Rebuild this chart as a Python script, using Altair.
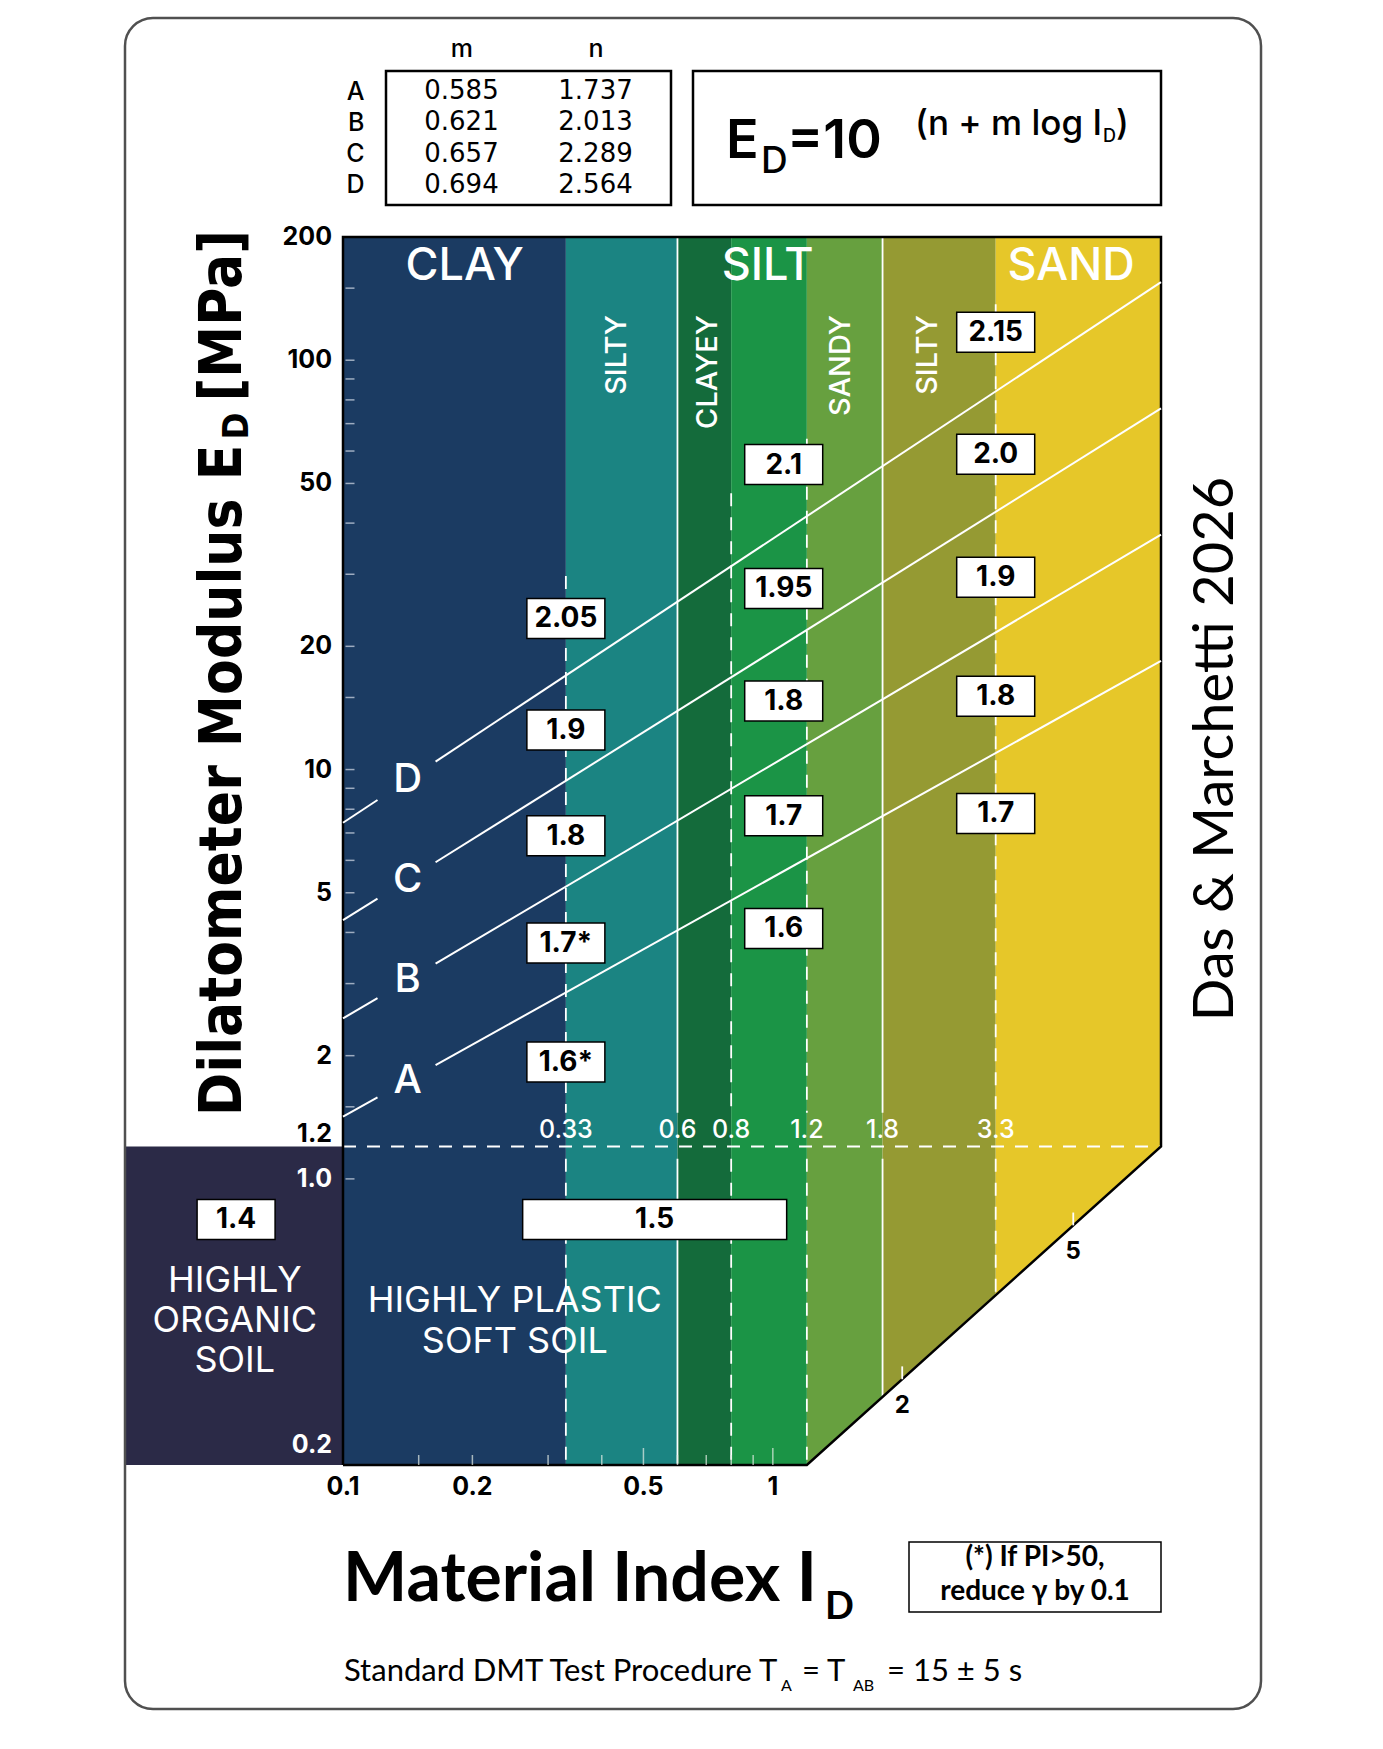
import altair as alt
import numpy as np
import pandas as pd

# ---- values ----
band_lo = [0.1, 0.33, 0.6, 0.8, 1.2, 1.8, 3.3]
band_hi = [0.33, 0.6, 0.8, 1.2, 1.8, 3.3, 8.0]
band_color = ["#1b3b62", "#1b8482", "#146b3b", "#1b9446", "#67a03f", "#959a33", "#e6c729"]

line_name = ["A", "B", "C", "D"]
line_m = [0.585, 0.621, 0.657, 0.694]
line_n = [1.737, 2.013, 2.289, 2.564]

gamma_text = ["2.05", "1.9", "1.8", "1.7*", "1.6*",
              "2.1", "1.95", "1.8", "1.7", "1.6",
              "2.15", "2.0", "1.9", "1.8", "1.7", "1.4"]
gamma_id = [0.33] * 5 + [1.06] * 5 + [3.3] * 5 + [0.0564]
gamma_ed = [23.4, 12.5, 6.89, 3.77, 1.93,
            55.6, 27.7, 14.7, 7.71, 4.09,
            117, 58.9, 29.5, 15.1, 7.81, 0.796]
wide_text = ["1.5"]
wide_id = [0.531]
wide_ed = [0.796]

dash_id = [0.33, 0.8, 1.2, 3.3]
dash_top = [29.7, 47.3, 64.3, 137.0]
solid_id = [0.6, 1.8]

bound_text = ["0.33", "0.6", "0.8", "1.2", "1.8", "3.3"]
bound_id = [0.33, 0.6, 0.8, 1.2, 1.8, 3.3]

soil_text = ["CLAY", "SILT", "SAND"]
soil_id = [0.192, 0.973, 4.94]
sub_text = ["SILTY", "CLAYEY", "SANDY", "SILTY"]
sub_id = [0.435, 0.705, 1.44, 2.30]
plastic_text = ["HIGHLY PLASTIC", "SOFT SOIL"]
plastic_ed = [0.502, 0.400]
organic_text = ["HIGHLY", "ORGANIC", "SOIL"]
organic_ed = [0.564, 0.450, 0.359]

y_labels = [200, 100, 50, 20, 10, 5, 2, 1.2, 1.0, 0.2]
y_label_text = ["200", "100", "50", "20", "10", "5", "2", "1.2", "1.0", "0.2"]
y_minor = [150, 100, 90, 80, 70, 60, 50, 40, 30, 20, 15, 10, 9, 8, 7, 6, 5, 4, 3, 2, 1.5, 1.0]
x_labels = [0.1, 0.2, 0.5, 1]
x_label_text = ["0.1", "0.2", "0.5", "1"]
x_minor = [0.15, 0.2, 0.3, 0.4, 0.6, 0.7, 0.8, 0.9]
x_major = [0.5, 1]
diag_ticks = [2, 5]

ID_MIN, ID_MAX = 0.1, 8.0
ED_MIN, ED_MAX, ED_SPLIT = 0.2, 200.0, 1.2
ORG_ID = 0.031
GAP_TOP, GAP_BOT = 1.45, 1.12   # vertical lines stop round the boundary labels

INTER = "Inter, 'DejaVu Sans', sans-serif"
LATO = "Lato, 'DejaVu Sans', sans-serif"
DEJA = "'DejaVu Sans', sans-serif"
COND = "'DejaVu Sans Condensed', 'Liberation Sans Narrow', sans-serif"

xs = alt.Scale(type="log", domain=[ID_MIN, ID_MAX], nice=False)
ys = alt.Scale(type="log", domain=[ED_MIN, ED_MAX], nice=False)


def ex(f="x"):
    return alt.X(f + ":Q", scale=xs, axis=None, title=None)


def ey(f="y"):
    return alt.Y(f + ":Q", scale=ys, axis=None, title=None)


one = pd.DataFrame({"k": [0]})


def note(text, x, y, size, **kw):
    return alt.Chart(one).mark_text(text=text, fontSize=size, **kw).encode(
        x=alt.value(x), y=alt.value(y))


# ---- main plot ----
bands_df = pd.DataFrame({"x": band_lo, "x2": band_hi, "y": ED_MIN, "y2": ED_MAX, "c": band_color})
bands = alt.Chart(bands_df).mark_rect().encode(
    x=ex(), x2="x2:Q", y=ey(), y2="y2:Q", color=alt.Color("c:N", scale=None))

organic = alt.Chart(pd.DataFrame({"x": [ORG_ID], "x2": [ID_MIN], "y": [ED_MIN], "y2": [ED_SPLIT]})).mark_rect(
    color="#2b2a47").encode(x=ex(), x2="x2:Q", y=ey(), y2="y2:Q")

dash_df = pd.concat([
    pd.DataFrame({"x": dash_id, "y": dash_top, "y2": GAP_TOP}),
    pd.DataFrame({"x": dash_id, "y": GAP_BOT, "y2": ED_MIN}),
])
dashes = alt.Chart(dash_df).mark_rule(
    color="white", strokeWidth=1.8, strokeDash=[13, 11]).encode(x=ex(), y=ey(), y2="y2:Q")

solid_df = pd.concat([
    pd.DataFrame({"x": solid_id, "y": ED_MAX, "y2": GAP_TOP}),
    pd.DataFrame({"x": solid_id, "y": GAP_BOT, "y2": ED_MIN}),
])
solids = alt.Chart(solid_df).mark_rule(color="white", strokeWidth=1.8).encode(x=ex(), y=ey(), y2="y2:Q")

split = alt.Chart(pd.DataFrame({"x": [ID_MIN, ID_MAX], "y": [ED_SPLIT, ED_SPLIT]})).mark_line(
    color="white", strokeWidth=1.8, strokeDash=[13, 11]).encode(x=ex(), y=ey())

tri = alt.Chart(pd.DataFrame({"x": [1.2, ID_MAX], "y": [ED_MIN, ED_SPLIT], "y2": [ED_MIN, ED_MIN]})).mark_area(
    color="white", stroke="white", strokeWidth=1.5).encode(x=ex(), y=ey(), y2="y2:Q")

frame = alt.Chart(pd.DataFrame({"x": [ID_MIN, ID_MIN, ID_MAX, ID_MAX, 1.2, ID_MIN],
                                "y": [ED_MIN, ED_MAX, ED_MAX, ED_SPLIT, ED_MIN, ED_MIN],
                                "o": [0, 1, 2, 3, 4, 5]})).mark_line(
    color="black", strokeWidth=2.5, strokeJoin="miter").encode(x=ex(), y=ey(), order="o:Q")

yt = alt.Chart(pd.DataFrame({"x": ID_MIN, "y": y_minor})).mark_tick(
    orient="horizontal", size=9, thickness=1.5, color="#d5dde8", xOffset=7).encode(x=ex(), y=ey())
xt1 = alt.Chart(pd.DataFrame({"x": x_minor, "y": ED_MIN})).mark_tick(
    orient="vertical", size=10, thickness=1.5, color="#e4ece4", yOffset=-5).encode(x=ex(), y=ey())
xt2 = alt.Chart(pd.DataFrame({"x": x_major, "y": ED_MIN})).mark_tick(
    orient="vertical", size=17, thickness=1.5, color="#e4ece4", yOffset=-8.5).encode(x=ex(), y=ey())

# axis labels, placed at their values through the scales
ylab = pd.DataFrame({"x": ID_MIN, "y": y_labels, "t": y_label_text})
LAB = dict(font=INTER, fontSize=25, fontWeight="bold", align="right", dx=-11)
yl1 = alt.Chart(ylab[ylab.y >= 2]).mark_text(color="black", **LAB).encode(x=ex(), y=ey(), text="t:N")
yl2 = alt.Chart(ylab[ylab.y == 1.2]).mark_text(color="black", dy=-12, **LAB).encode(x=ex(), y=ey(), text="t:N")
yl3 = alt.Chart(ylab[ylab.y == 1.0]).mark_text(color="white", **LAB).encode(x=ex(), y=ey(), text="t:N")
yl4 = alt.Chart(ylab[ylab.y == 0.2]).mark_text(color="white", dy=-20, **LAB).encode(x=ex(), y=ey(), text="t:N")
xl = alt.Chart(pd.DataFrame({"x": x_labels, "y": ED_MIN, "t": x_label_text})).mark_text(
    font=INTER, fontSize=25, fontWeight="bold", color="black", dy=22).encode(x=ex(), y=ey(), text="t:N")

# ticks on the sloping lower edge
lx = np.log10(np.array(diag_ticks, dtype=float))
frac = (lx - np.log10(1.2)) / (np.log10(ID_MAX) - np.log10(1.2))
yd = 10 ** (np.log10(ED_MIN) + frac * (np.log10(ED_SPLIT) - np.log10(ED_MIN)))
diag_df = pd.DataFrame({"x": diag_ticks, "y": yd, "y2": yd * 1.075, "t": [str(v) for v in diag_ticks]})
dt = alt.Chart(diag_df).mark_rule(color="white", strokeWidth=1.8).encode(x=ex(), y=ey(), y2="y2:Q")
dl = alt.Chart(diag_df).mark_text(font=INTER, fontSize=24, fontWeight="bold", color="black", dy=27).encode(
    x=ex(), y=ey(), text="t:N")

# separation lines A-D, broken around their letters
rows = []
for name, m, n in zip(line_name, line_m, line_n):
    for seg, (a, b) in enumerate([(ID_MIN, 0.1203), (0.1642, ID_MAX)]):
        for v in (a, b):
            rows.append({"k": f"{name}{seg}", "x": v, "y": 10 ** (n - 1 + m * np.log10(v))})
lines = alt.Chart(pd.DataFrame(rows)).mark_line(color="white", strokeWidth=2).encode(
    x=ex(), y=ey(), detail="k:N")
let_df = pd.DataFrame({"x": 0.1414, "t": line_name,
                       "y": [10 ** (n - 1 + m * np.log10(0.1414)) for m, n in zip(line_m, line_n)]})
letters = alt.Chart(let_df).mark_text(font=INTER, fontSize=40, fontWeight=500, color="white").encode(
    x=ex(), y=ey(), text="t:N")

BOX = "M-1,-0.513H1V0.513H-1Z"
WIDE = "M-1,-0.1515H1V0.1515H-1Z"
g_df = pd.DataFrame({"x": gamma_id, "y": gamma_ed, "t": gamma_text})
w_df = pd.DataFrame({"x": wide_id, "y": wide_ed, "t": wide_text})
gbox = alt.Chart(g_df).mark_point(shape=BOX, size=6084, filled=True, fill="white", stroke="black",
                                  strokeWidth=1.5, opacity=1).encode(x=ex(), y=ey())
wbox = alt.Chart(w_df).mark_point(shape=WIDE, size=69696, filled=True, fill="white", stroke="black",
                                  strokeWidth=1.5, opacity=1).encode(x=ex(), y=ey())
gtxt = alt.Chart(pd.concat([g_df, w_df])).mark_text(
    font=INTER, fontSize=28, fontWeight="bold", color="black", dy=1).encode(x=ex(), y=ey(), text="t:N")

soil = alt.Chart(pd.DataFrame({"x": soil_id, "y": 170, "t": soil_text})).mark_text(
    font=INTER, fontSize=45, fontWeight=500, color="white").encode(x=ex(), y=ey(), text="t:N")
subs = alt.Chart(pd.DataFrame({"x": sub_id, "y": 129, "t": sub_text})).mark_text(
    font=INTER, fontSize=29, fontWeight=500, color="white", angle=270, align="right").encode(
    x=ex(), y=ey(), text="t:N")
bnd = alt.Chart(pd.DataFrame({"x": bound_id, "y": 1.32, "t": bound_text})).mark_text(
    font=INTER, fontSize=25, fontWeight=500, color="white").encode(x=ex(), y=ey(), text="t:N")
plastic = alt.Chart(pd.DataFrame({"x": 0.251, "y": plastic_ed, "t": plastic_text})).mark_text(
    font=INTER, fontSize=36, color="white").encode(x=ex(), y=ey(), text="t:N")
organic_lbl = alt.Chart(pd.DataFrame({"x": 0.056, "y": organic_ed, "t": organic_text})).mark_text(
    font=INTER, fontSize=36, color="white").encode(x=ex(), y=ey(), text="t:N")

# ---- texts round the plot (pixels relative to the plot's top-left) ----
card = alt.Chart(one).mark_rect(fill="white", fillOpacity=0, stroke="#505050", strokeWidth=2.5,
                                cornerRadius=28).encode(
    x=alt.value(-218), x2=alt.value(918), y=alt.value(-219), y2=alt.value(1472))
t1 = note("Dilatometer Modulus E", -102, 879, 58, font=COND, fontWeight="bold", angle=270,
          align="left", baseline="alphabetic")
t2 = note("D", -95, 189, 36, font=COND, fontWeight="bold", angle=270, align="center", baseline="alphabetic")
t3 = note("[MPa]", -102, -7, 58, font=COND, fontWeight="bold", angle=270, align="right", baseline="alphabetic")
das = note("Das & Marchetti 2026", 890, 512, 56, font=LATO, angle=270, align="center", baseline="alphabetic")
mi1 = note("Material Index I", 0, 1364, 68, font=LATO, fontWeight="bold", align="left", baseline="alphabetic")
mi2 = note("D", 482, 1382, 38, font=LATO, fontWeight="bold", align="left", baseline="alphabetic")
foot = alt.Chart(one).mark_rect(fill="white", stroke="black", strokeWidth=1.5).encode(
    x=alt.value(566), x2=alt.value(818), y=alt.value(1305), y2=alt.value(1375))
f1 = note("(*) If PI>50,", 692, 1321, 28, font=LATO, fontWeight="bold", align="center")
f2 = note("reduce \u03b3 by 0.1", 692, 1355, 28, font=LATO, fontWeight="bold", align="center")
s1 = note("Standard DMT Test Procedure T", 1, 1444, 31, font=LATO, align="left", baseline="alphabetic")
s2 = note("A", 438, 1454, 16, font=LATO, align="left", baseline="alphabetic")
s3 = note("= T", 459, 1444, 31, font=LATO, align="left", baseline="alphabetic")
s4 = note("AB", 510, 1454, 16, font=LATO, align="left", baseline="alphabetic")
s5 = note("= 15 \u00b1 5 s", 544, 1444, 31, font=LATO, align="left", baseline="alphabetic")

main = alt.layer(
    bands, organic, dashes, solids, split, tri, frame, yt, xt1, xt2, dt, dl,
    yl1, yl2, yl3, yl4, xl,
    lines, letters, gbox, wbox, gtxt, soil, subs, bnd, plastic, organic_lbl,
    card, t1, t2, t3, das, mi1, mi2, foot, f1, f2, s1, s2, s3, s4, s5,
).properties(width=818, height=1228)

# ---- coefficient table ----
tab = pd.DataFrame({
    "row": line_name * 2,
    "col": ["m"] * 4 + ["n"] * 4,
    "val": [f"{v:.3f}" for v in line_m] + [f"{v:.3f}" for v in line_n],
})
table = alt.Chart(tab).mark_text(font=DEJA, fontSize=26, color="black").encode(
    x=alt.X("col:N", scale=alt.Scale(type="point", padding=0.563), title=None,
            axis=alt.Axis(orient="top", ticks=False, domain=False, labelAngle=0, labelFont=INTER,
                          labelFontSize=25, labelFontWeight=500, labelColor="black", labelPadding=10)),
    y=alt.Y("row:N", scale=alt.Scale(type="point", padding=0.66), title=None,
            axis=alt.Axis(ticks=False, domain=False, labelFont=INTER, labelFontSize=25,
                          labelFontWeight=500, labelColor="black", labelPadding=22)),
    text="val:N",
).properties(width=285, height=134, view=alt.ViewBackground(stroke="black", strokeWidth=2.5))

# ---- formula box ----
formula = alt.layer(
    note("E", 33, 87, 54, font=INTER, fontWeight=600, align="left", baseline="alphabetic"),
    note("D", 68, 102, 37, font=INTER, fontWeight=500, align="left", baseline="alphabetic"),
    note("=10", 94, 87, 54, font=INTER, fontWeight=600, align="left", baseline="alphabetic"),
    note("(n + m log I", 409, 64, 35, font=INTER, fontWeight=500, align="right", baseline="alphabetic"),
    note("D", 410, 71, 18, font=INTER, fontWeight=500, align="left", baseline="alphabetic"),
    note(")", 423, 64, 35, font=INTER, fontWeight=500, align="left", baseline="alphabetic"),
).properties(width=468, height=134, view=alt.ViewBackground(stroke="black", strokeWidth=2.5))

spacer = alt.Chart(one).mark_text(text="").encode(x=alt.value(0)).properties(width=21, height=134)

top = alt.hconcat(spacer, table, formula, spacing=22, bounds="flush")

# the flush row above counts as zero height, so the gap holds its 134 px too
chart = alt.vconcat(top, main, spacing=166, bounds="flush").properties(
    padding={"left": 115, "top": 8, "right": 8, "bottom": 8}
).configure_view(strokeWidth=0)

chart.save("out.html", embed_options={"renderer": "svg", "actions": False})
